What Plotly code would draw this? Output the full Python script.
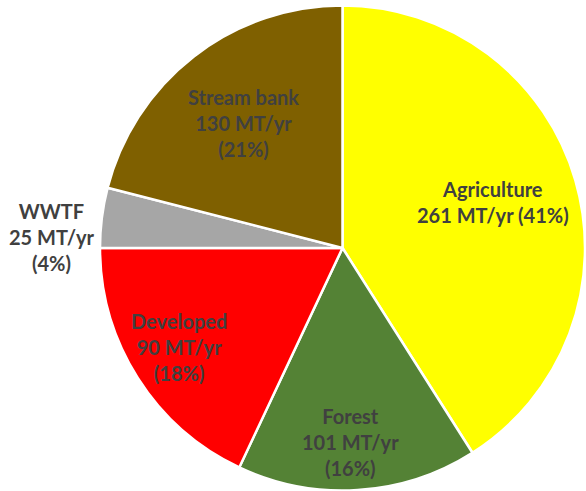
import math
import plotly.graph_objects as go

sources = ["Agriculture", "Forest", "Developed", "WWTF", "Stream bank"]
loads_mt_yr = [261, 101, 90, 25, 130]
shares_pct = [41, 16, 18, 4, 21]
colors = ["#FFFF00", "#548235", "#FF0000", "#A6A6A6", "#7F6000"]

W, H = 586, 491
# pie placement in pixels (left, right, top, bottom)
pie_left, pie_right, pie_top, pie_bottom = 100, 585, 5.5, 490.5
cx = (pie_left + pie_right) / 2
cy = (pie_top + pie_bottom) / 2
R = (pie_right - pie_left) / 2

# label placement: radial factor and angular nudge (degrees) per slice
label_radius = [0.65, 0.80, 0.79, 1.20, 0.66]
label_nudge = [-0.7, 1.2, 1.2, -5.1, -0.6]

labels_text = []
for s, v, p in zip(sources, loads_mt_yr, shares_pct):
    if s == "Agriculture":
        labels_text.append(f"{s}<br>{v} MT/yr ({p}%)")
    else:
        labels_text.append(f"{s}<br>{v} MT/yr<br>({p}%)")

fig = go.Figure(go.Pie(
    labels=sources,
    values=shares_pct,
    textinfo="none",
    sort=False,
    direction="clockwise",
    rotation=0,
    marker=dict(colors=colors, line=dict(color="white", width=2.5)),
    showlegend=False,
    hoverinfo="label+value",
    domain=dict(x=[pie_left / W, pie_right / W], y=[1 - pie_bottom / H, 1 - pie_top / H]),
))

total = sum(shares_pct)
cum = 0
for txt, share, rf, nudge in zip(labels_text, shares_pct, label_radius, label_nudge):
    mid = (cum + share / 2) / total * 360 + nudge
    cum += share
    a = math.radians(mid)
    px = cx + rf * R * math.sin(a)
    py = cy - rf * R * math.cos(a)
    fig.add_annotation(
        x=px / W, y=1 - py / H, xref="paper", yref="paper",
        text=txt, showarrow=False, xanchor="center", yanchor="middle",
        align="center",
        font=dict(family="Lato", size=20, color="#404040", weight="bold"),
    )

fig.update_layout(
    width=W, height=H,
    margin=dict(l=0, r=0, t=0, b=0),
    paper_bgcolor="white",
    plot_bgcolor="white",
)

fig.write_html("out.html", config={"displayModeBar": False},
               post_script="document.body.style.margin='0';")
